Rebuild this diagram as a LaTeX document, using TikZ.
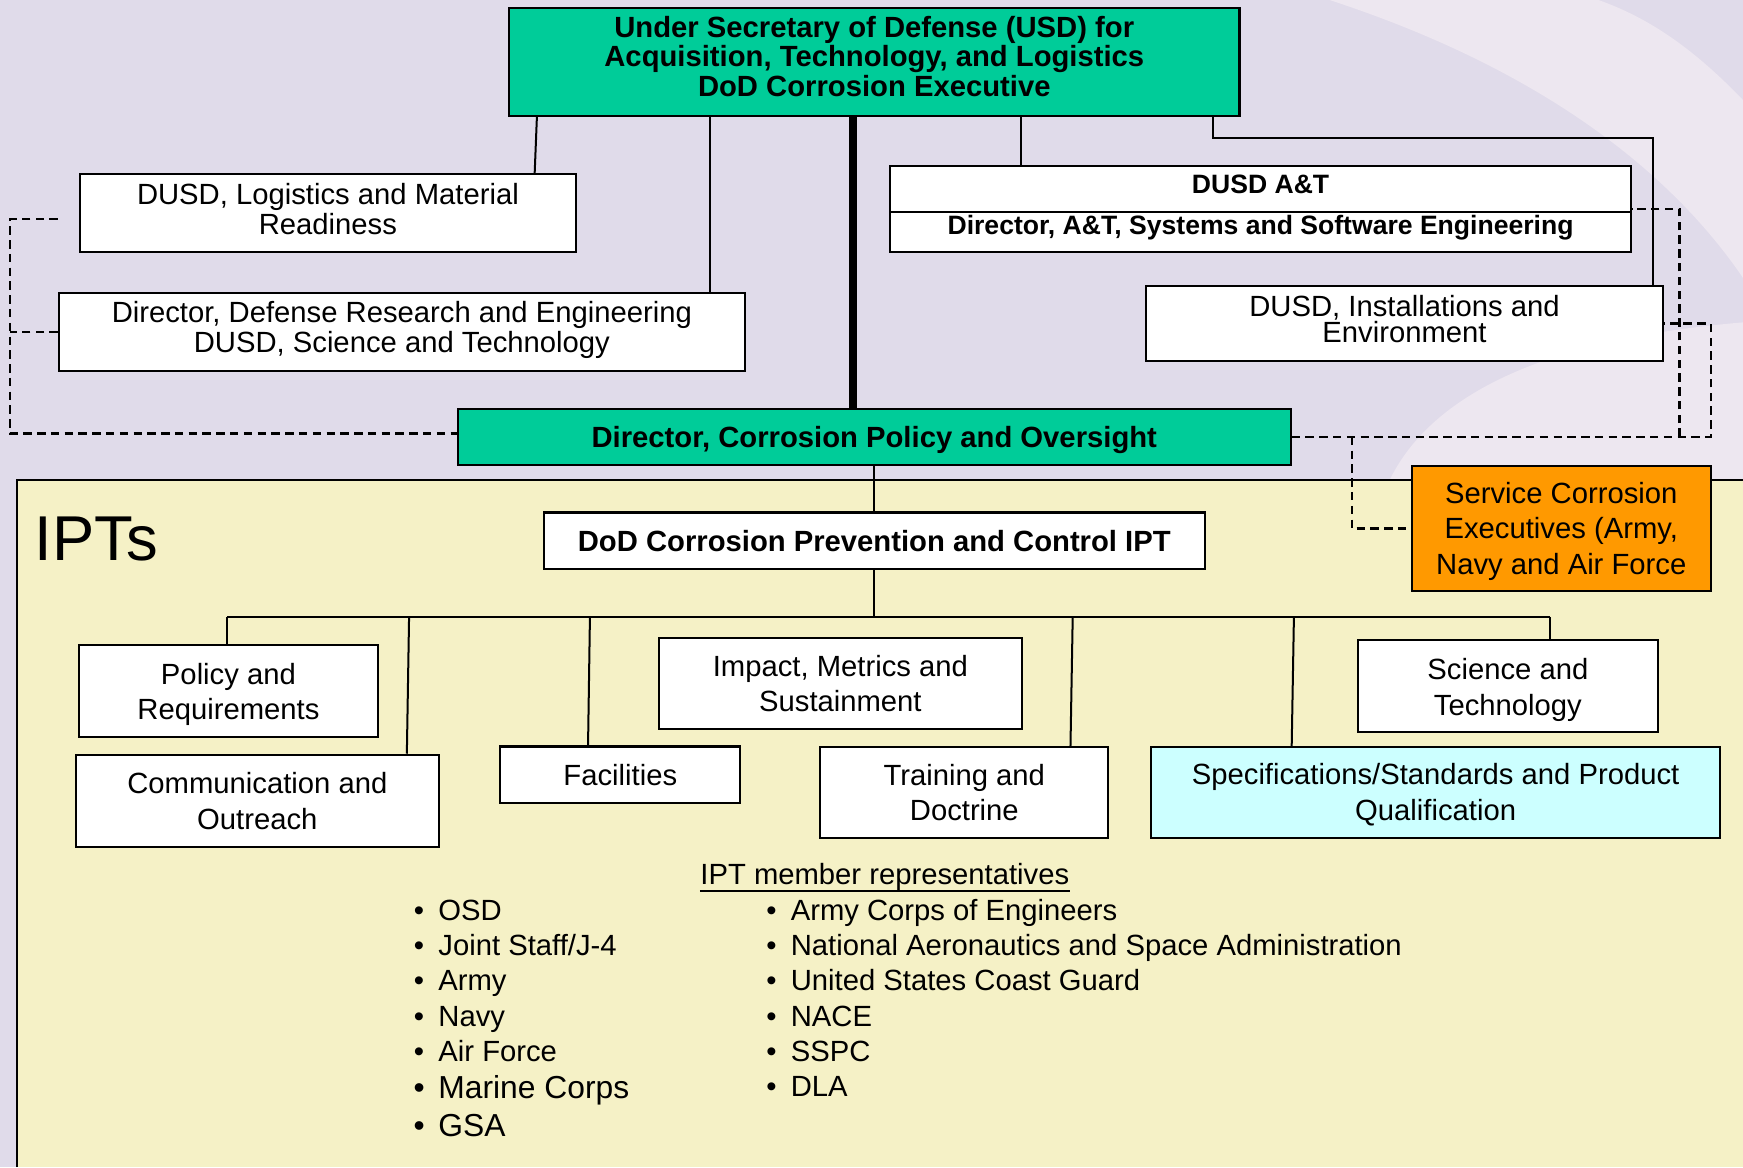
\documentclass[tikz,border=0pt]{standalone}
\usepackage{fontspec}
\setmainfont{Liberation Sans}
\usetikzlibrary{calc}
\definecolor{bgtop}{HTML}{E0DBEA}
\definecolor{bglight}{HTML}{EDE7F0}
\definecolor{panel}{HTML}{F5F1C6}
\definecolor{grn}{HTML}{00CC99}
\definecolor{org}{HTML}{FF9900}
\definecolor{cyn}{HTML}{CCFFFF}
\newcommand\myfs[1]{\fontsize{13.15pt}{#1pt}\selectfont}
\newcommand\pushup[1]{\rule[-#1]{0pt}{0pt}}
\newcommand\pushdn[1]{\rule{0pt}{#1}}
\tikzset{
  box/.style={draw=black, line width=0.95pt, fill=white, inner sep=0pt, align=center, font=\myfs{16}},
  wh/.style n args={2}{minimum width=#1*0.5pt, minimum height=#2*0.5pt},
  ln/.style={line width=0.9pt},
  dsh/.style={line width=1.1pt, dash pattern=on 3.8pt off 2.4pt},
  item/.style={anchor=base west, inner sep=0pt, font=\myfs{16}},
  bigitem/.style={anchor=base west, inner sep=0pt, font=\fontsize{14.3pt}{17pt}\selectfont},
}
\newcommand\bul{\llap{•\hspace{6.4pt}}}
\newcommand\bigbul{\llap{•\hspace{6.2pt}}}
\begin{document}
\begin{tikzpicture}[x=0.5pt,y=-0.5pt]
\useasboundingbox (0,0) rectangle (1568,1050);
% background
\fill[bgtop] (0,0) rectangle (1568,1050);
\fill[bglight] (1196,0) .. controls (1380,60) and (1500,150) .. (1568,250) -- (1568,90) .. controls (1520,40) and (1480,15) .. (1438,0) -- cycle;
\fill[bglight] (1250,432) .. controls (1300,330) and (1450,300) .. (1568,290) -- (1568,432) -- cycle;
\fill[panel] (15,432) rectangle (1568,1050);
\draw[line width=0.9pt] (15,1050) -- (15,432) -- (1568,432);

% top boxes
\node[box, fill=grn, wh={657}{97}, font={\bfseries\myfs{13.25}}] (usd) at (786.5,55.5)
  {Under Secretary of Defense (USD) for\\Acquisition, Technology, and Logistics\\DoD Corrosion Executive\pushup{5pt}};
\node[box, wh={446}{70}, font={\myfs{13.5}}] (log) at (295,191.5) {DUSD, Logistics and Material\\Readiness\pushup{4pt}};
\node[box, wh={617}{70}, font={\myfs{13.5}}] (dre) at (361.5,298.5) {Director, Defense Research and Engineering\\DUSD, Science and Technology\pushup{4.8pt}};
\node[box, wh={666}{78}] (at) at (1134,188) {};
\coordinate (divy) at (0,190.5);
\draw[line width=0.95pt] (at.west |- divy) -- (at.east |- divy);
\node[anchor=base, inner sep=0pt, font={\bfseries\fontsize{11.95pt}{14pt}\selectfont}] (atT) at (1134,174) {DUSD A\&T};
\node[anchor=base, inner sep=0pt, font={\bfseries\fontsize{11.95pt}{14pt}\selectfont}] (atB) at (1134,211) {Director, A\&T, Systems and Software Engineering};
\node[box, wh={465}{67}, font={\myfs{12}}] (ie) at (1263.5,291) {DUSD, Installations and\\Environment\pushup{4pt}};
\node[box, fill=grn, wh={749}{50}, font={\bfseries\myfs{16}}] (cpo) at (786.5,393) {\pushdn{12.6pt}Director, Corrosion Policy and Oversight};
\node[box, fill=org, wh={269}{113}, font={\myfs{15.75}}] (svc) at (1404.5,475.5) {\pushdn{12.1pt}Service Corrosion\\Executives (Army,\\Navy and Air Force};

% IPT panel
\node[anchor=base west, inner sep=0pt, font={\fontsize{28.5pt}{30pt}\selectfont}] (ipts) at (31,504) {IPTs};
\node[box, wh={595}{51}, font={\bfseries\myfs{16}}] (ipt) at (786.5,486.5) {DoD Corrosion Prevention and Control IPT};
\node[box, wh={269}{83}] (pol) at (205.5,621.5) {\pushdn{12.6pt}Policy and\\Requirements};
\node[box, wh={327}{83}] (com) at (231.5,720.5) {Communication and\\Outreach};
\node[box, wh={216}{51}] (fac) at (558,697) {Facilities};
\node[box, wh={326}{82}] (imp) at (756,615) {Impact, Metrics and\\Sustainment};
\node[box, wh={259}{82}] (trn) at (867.5,713) {Training and\\Doctrine};
\node[box, wh={270}{83}] (sci) at (1356.5,617) {\pushdn{13.1pt}Science and\\Technology};
\node[box, fill=cyn, wh={512}{82}] (spc) at (1291.5,713) {\pushdn{11.6pt}Specifications/Standards and Product\\Qualification};

% member list
\node[anchor=base, inner sep=0pt, font=\myfs{16}] (mtitle) at (796,796) {IPT member representatives};
\draw[line width=0.8pt] (mtitle.south west) -- (mtitle.south east);
\foreach \t/\yy [count=\i] in {OSD/828, Joint Staff\slash J-4/859.5, Army/891, Navy/923, Air Force/955}
  \node[item] (la\i) at (394,\yy) {\bul\t};
\node[bigitem] (la6) at (394,988) {\bigbul Marine Corps};
\node[bigitem] (la7) at (394,1022.5) {\bigbul GSA};
\foreach \t/\yy [count=\i] in {Army Corps of Engineers/828, National Aeronautics and Space Administration/859.5, United States Coast Guard/891, NACE/923, SSPC/955, DLA/986}
  \node[item] (ra\i) at (711,\yy) {\bul\t};

% helper x positions
\coordinate (x483) at (483,0); \coordinate (x481) at (481,0);
\coordinate (x639) at (639,0);
\coordinate (x768) at (767.5,0);
\coordinate (x918) at (918.5,0);
\coordinate (x1091) at (1091,0);
\coordinate (x1487) at (1487,0);
\coordinate (xl) at (9,0);
\coordinate (xr1) at (1511,0);
\coordinate (xr2) at (1539,0);
\coordinate (xs) at (1216,0);
\coordinate (busL) at (204.5,555);
\coordinate (busR) at (1394,555);
\coordinate (a368) at (368,0); \coordinate (b366) at (366,0);
\coordinate (a531) at (530.7,0); \coordinate (b529) at (529,0);
\coordinate (a965) at (965,0); \coordinate (b963) at (963,0);
\coordinate (a1164) at (1164,0); \coordinate (b1162) at (1162,0);

% solid connectors (top)
\draw[line width=3.4pt] (usd.south -| x768) -- (cpo.north -| x768);
\draw[ln] (usd.south -| x483) -- (log.north -| x481);
\draw[ln] (usd.south -| x639) -- (dre.north -| x639);
\draw[ln] (usd.south -| x918) -- (at.north -| x918);
\draw[ln] (usd.south -| x1091) -- ++(0,19) -| (ie.north -| x1487);

% dashed connectors
\coordinate (lgEnd) at ($(dre.west |- log.west)+(0,5.5)$);
\coordinate (cpoL) at ($(cpo.west)+(0,-3)$);
\draw[dsh] (lgEnd) -- (lgEnd -| xl) -- (xl |- cpoL) -- (cpoL);
\draw[dsh] (dre.west) -- (dre.west -| xl);
\draw[dsh] (cpo.east) -- (cpo.east -| xr2) -- (xr2 |- ie.east) -- (ie.east);
\draw[dsh] (cpo.east -| xr1) -- (xr1 |- at.east) -- (at.east);
\draw[dsh] (cpo.east -| xs) -- (xs |- svc.west) -- (svc.west);

% IPT connectors
\draw[ln] (cpo.south) -- (cpo.south |- ipt.north);
\draw[ln] (ipt.south) -- (ipt.south |- busL);
\draw[ln] (busL) -- (busR);
\draw[ln] (busL) -- (busL |- pol.north);
\draw[ln] (busL -| a368) -- (com.north -| b366);
\draw[ln] (busL -| a531) -- (fac.north -| b529);
\draw[ln] (busL -| a965) -- (trn.north -| b963);
\draw[ln] (busL -| a1164) -- (spc.north -| b1162);
\draw[ln] (busR) -- (busR |- sci.north);
\end{tikzpicture}
\end{document}
